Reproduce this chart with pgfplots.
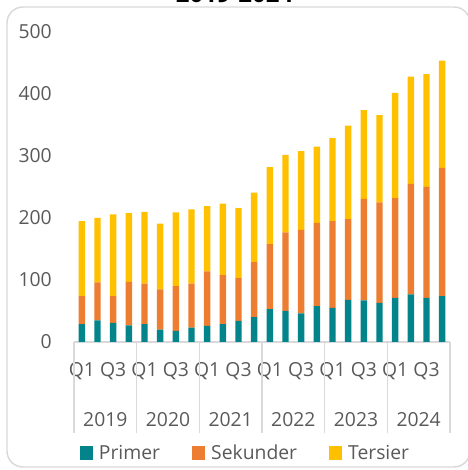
\documentclass[border=0pt]{standalone}
\usepackage{pgfplots}
\pgfplotsset{compat=1.18}
\usepackage{pgfplotstable}
\usepackage{fontspec}
\setmainfont{Open Sans}
\definecolor{cteal}{HTML}{03838A}
\definecolor{corange}{HTML}{ED7D31}
\definecolor{cyellow}{HTML}{FFC000}
\definecolor{ctext}{HTML}{595959}
\definecolor{cline}{HTML}{D9D9D9}

\pgfplotstableread{
idx P S T
0 29 45 121
1 35 61 104
2 31 43 132
3 27 70 111
4 29 65 116
5 20 65 106
6 18 72 119
7 23 71 120
8 26 88 105
9 29 79 115
10 34 69 113
11 40 89 112
12 53 105 124
13 50 127 125
14 46 135 127
15 58 134 123
16 55 140 134
17 68 130 151
18 67 164 143
19 63 162 141
20 71 161 170
21 77 178 173
22 71 179 182
23 74 207 173
}\datatable

\begin{document}
\begin{tikzpicture}
\useasboundingbox (0pt,0pt) rectangle (350.25pt,352.5pt);
\draw[cline, line width=1.1pt, rounded corners=12pt] (5.25pt,2.25pt) rectangle (352.5pt,347.25pt);
\node[anchor=base, font=\bfseries\fontsize{18}{20}\selectfont, text=black] at (175.9pt,350.8pt) {2019-2024};
\begin{axis}[
  at={(55.5pt,96pt)}, anchor=south west,
  scale only axis, width=282pt, height=232.5pt,
  ymin=0, ymax=500, xmin=-0.5, xmax=23.5,
  ybar stacked, bar width=0.41,
  axis x line*=bottom, axis y line*=left,
  x axis line style={cline, line width=0.9pt, -},
  y axis line style={draw=none},
  major tick length=0pt,
  ytick={0,100,...,500},
  xtick={0,2,...,22},
  xticklabels={Q1,Q3,Q1,Q3,Q1,Q3,Q1,Q3,Q1,Q3,Q1,Q3},
  tick label style={font=\fontsize{14.5}{17}\selectfont, text=ctext},
  /pgf/number format/assume math mode=true,
  xticklabel style={anchor=center, yshift=-22pt},
  yticklabel style={anchor=east, inner sep=0pt, xshift=-16.5pt},
  clip=false,
  legend style={draw=none, fill=none, at={(0.457,-0.358)}, anchor=center,
    font=\fontsize{14.5}{17}\selectfont, text=ctext,
    legend columns=3,
    /tikz/every even column/.append style={column sep=22pt},
    /tikz/every odd column/.append style={column sep=2.5pt},
    inner sep=0pt},
  legend image code/.code={\fill[#1] (0pt,-4.9pt) rectangle (9.8pt,4.9pt);},
]
\addplot[fill=cteal, draw=none] table[x=idx, y=P] {\datatable};
\addplot[fill=corange, draw=none] table[x=idx, y=S] {\datatable};
\addplot[fill=cyellow, draw=none] table[x=idx, y=T] {\datatable};
\legend{Primer,Sekunder,Tersier}
\pgfplotsinvokeforeach{-0.5,3.5,7.5,11.5,15.5,19.5,23.5}{
  \draw[cline, line width=0.9pt] (axis cs:#1,0) -- ++(0pt,-68pt);
}
\node[font=\fontsize{14.5}{17}\selectfont, text=ctext] at ([yshift=-58.5pt]axis cs:1.5,0) {2019};
\node[font=\fontsize{14.5}{17}\selectfont, text=ctext] at ([yshift=-58.5pt]axis cs:5.5,0) {2020};
\node[font=\fontsize{14.5}{17}\selectfont, text=ctext] at ([yshift=-58.5pt]axis cs:9.5,0) {2021};
\node[font=\fontsize{14.5}{17}\selectfont, text=ctext] at ([yshift=-58.5pt]axis cs:13.5,0) {2022};
\node[font=\fontsize{14.5}{17}\selectfont, text=ctext] at ([yshift=-58.5pt]axis cs:17.5,0) {2023};
\node[font=\fontsize{14.5}{17}\selectfont, text=ctext] at ([yshift=-58.5pt]axis cs:21.5,0) {2024};
\end{axis}
\end{tikzpicture}
\end{document}
